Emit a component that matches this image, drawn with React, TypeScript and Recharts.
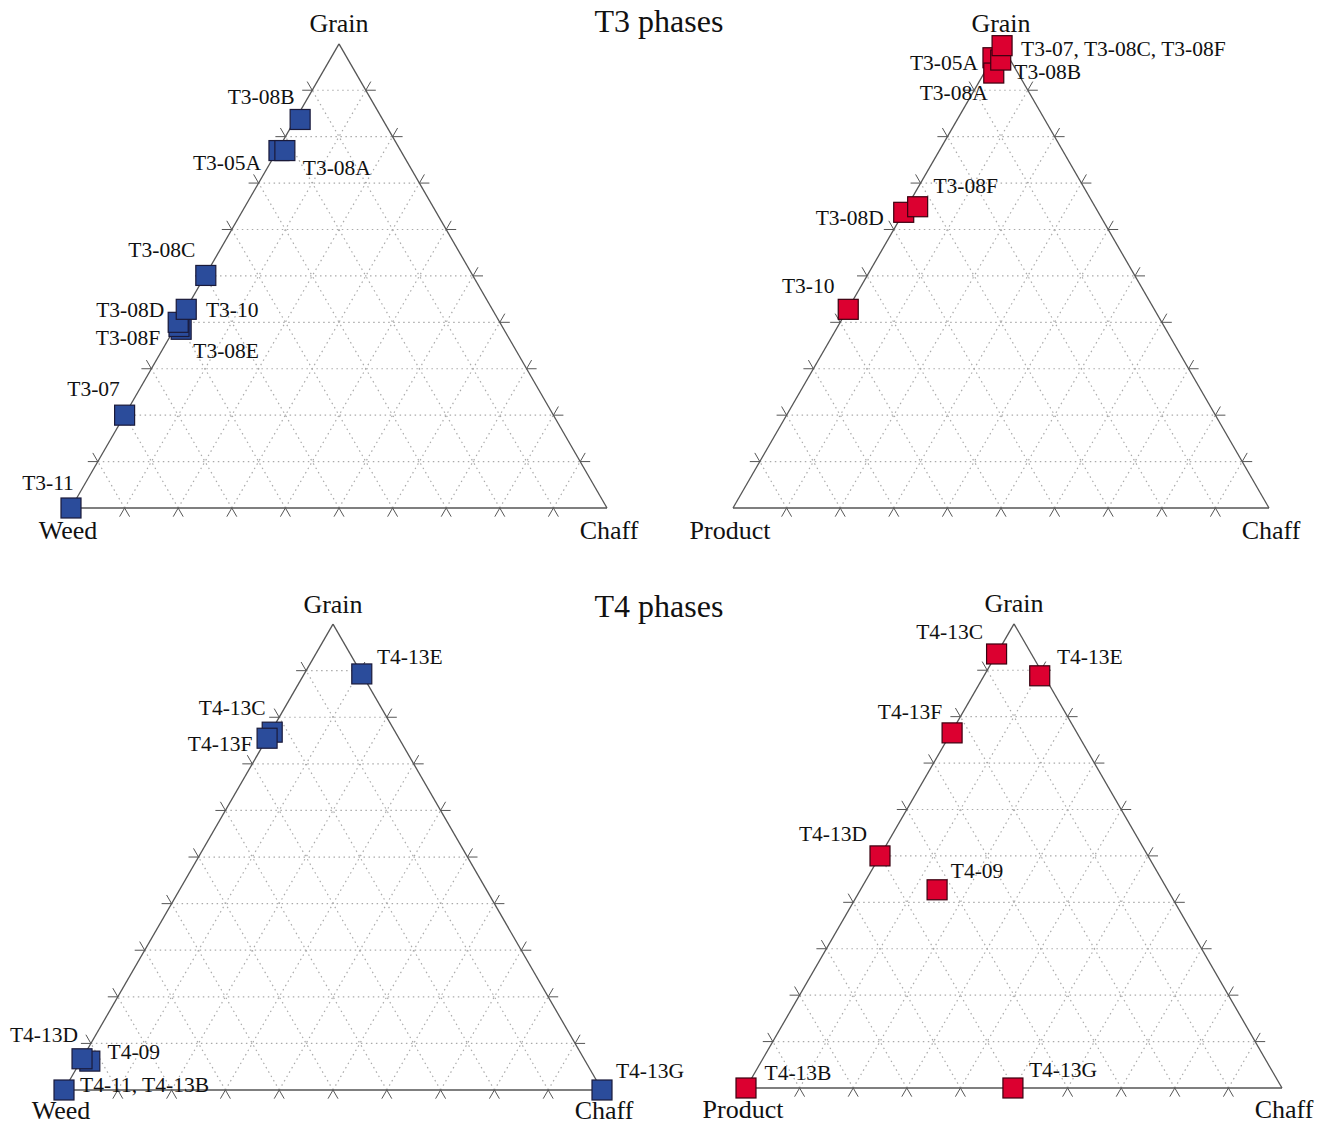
import React from 'react';
import { ScatterChart, Scatter, XAxis, YAxis, ReferenceLine } from 'recharts';

const S3 = Math.sqrt(3) / 2;
const FONT = '"Liberation Serif", "Times New Roman", serif';

// grid / tick levels (%)
const levels = [10, 20, 30, 40, 50, 60, 70, 80, 90];

// T3 phases: Weed - Grain - Chaff (%), back to front
const t3wNames = ['T3-11', 'T3-07', 'T3-08E', 'T3-08F', 'T3-08D', 'T3-10', 'T3-08C', 'T3-05A', 'T3-08A', 'T3-08B'];
const t3wGrain = [0, 20.0, 38.5, 39.1, 40.0, 42.8, 50.1, 77.0, 77.0, 83.7];
const t3wChaff = [0, 0, 1.3, 0.6, 0, 0.1, 0.1, 0.3, 1.4, 0.9];
const t3wWeed = [100, 80.0, 60.2, 60.3, 60.0, 57.1, 49.8, 22.7, 21.6, 15.4];

// T3 phases: Product - Grain - Chaff (%)
const t3pNames = ['T3-10', 'T3-08D', 'T3-08F', 'T3-05A', 'T3-08A', 'T3-08B', 'T3-07, T3-08C, T3-08F'];
const t3pGrain = [42.8, 63.7, 64.9, 97.0, 93.7, 96.5, 99.6];
const t3pChaff = [0.1, 0, 2.0, 0, 1.8, 1.7, 0.4];
const t3pProduct = [57.1, 36.3, 33.1, 3.0, 4.5, 1.8, 0];

// T4 phases: Weed - Grain - Chaff (%)
const t4wNames = ['T4-11, T4-13B', 'T4-13G', 'T4-09', 'T4-13D', 'T4-13C', 'T4-13F', 'T4-13E'];
const t4wGrain = [0, 0, 6.2, 6.7, 76.8, 75.5, 89.3];
const t4wChaff = [0, 100, 1.7, 0, 0.3, 0, 10.7];
const t4wWeed = [100, 0, 92.1, 93.3, 22.9, 24.5, 0];

// T4 phases: Product - Grain - Chaff (%)
const t4pNames = ['T4-13B', 'T4-13G', 'T4-09', 'T4-13D', 'T4-13F', 'T4-13C', 'T4-13E'];
const t4pGrain = [0, 0, 42.7, 50.0, 76.5, 93.5, 88.8];
const t4pChaff = [0, 49.8, 14.3, 0, 0.2, 0, 10.4];
const t4pProduct = [100, 50.2, 43.0, 50.0, 23.3, 6.5, 0.8];

type Anchor = 'start' | 'middle' | 'end';
type LabelPos = Record<string, [number, number, Anchor?]>;

// label offsets from the marker centre (px)
const t3wLabels: LabelPos = {
  'T3-08B': [-39, -22], 'T3-05A': [-52, 12], 'T3-08A': [52, 17], 'T3-08C': [-44, -25],
  'T3-10': [46, 1], 'T3-08D': [-48, -12], 'T3-08F': [-51, 11], 'T3-08E': [45, 22],
  'T3-07': [-31, -26], 'T3-11': [-23, -25],
};
const t3pLabels: LabelPos = {
  'T3-10': [-40, -23], 'T3-08D': [-54, 6], 'T3-08F': [48, -21], 'T3-08A': [-40, 20],
  'T3-05A': [-49, 5], 'T3-08B': [47, 12], 'T3-07, T3-08C, T3-08F': [19, 3, 'start'],
};
const t4wLabels: LabelPos = {
  'T4-11, T4-13B': [16, -5, 'start'], 'T4-13G': [48, -19], 'T4-09': [44, -9],
  'T4-13D': [-38, -24], 'T4-13C': [-40, -24], 'T4-13F': [-47, 6], 'T4-13E': [48, -17],
};
const t4pLabels: LabelPos = {
  'T4-13B': [52, -15], 'T4-13G': [50, -18], 'T4-09': [40, -19], 'T4-13D': [-47, -22],
  'T4-13F': [-42, -21], 'T4-13C': [-47, -22], 'T4-13E': [50, -19],
};

const BLUE = { fill: '#2b4c9b', stroke: '#1a1a3a' };
const RED = { fill: '#dc0030', stroke: '#3a0010' };

// left corner, chaff (right corner), grain (top) in % -> unit triangle coords
const project = (left: number, chaff: number, grain: number) => {
  const t = left + chaff + grain;
  return { x: (chaff + grain / 2) / t, y: (grain * S3) / t };
};

interface PanelProps {
  box: { left: number; top: number; width: number; height: number };
  origin: [number, number];
  side: number;
  leftName: string;
  cornerDy: number;
  names: string[];
  left: number[];
  chaff: number[];
  grain: number[];
  labels: LabelPos;
  color: { fill: string; stroke: string };
}

const TernaryPanel: React.FC<PanelProps> = ({ box, origin, side, leftName, cornerDy, names, left, chaff, grain, labels, color }) => {
  const xDomain = [(box.left - origin[0]) / side, (box.left + box.width - origin[0]) / side];
  const yDomain = [(origin[1] - box.top - box.height) / side, (origin[1] - box.top) / side];
  const t = 10 / side;

  const pts = names.map((name, i) => ({ ...project(left[i], chaff[i], grain[i]), name }));

  const grid: { x: number; y: number }[][] = [];
  const ticks: { x: number; y: number }[][] = [];
  levels.forEach((k) => {
    grid.push([project(100 - k, 0, k), project(0, 100 - k, k)]);
    grid.push([project(100 - k, k, 0), project(0, k, 100 - k)]);
    grid.push([project(k, 100 - k, 0), project(k, 0, 100 - k)]);

    const l = project(100 - k, 0, k);
    ticks.push([l, { x: l.x - t, y: l.y }], [l, { x: l.x - t / 2, y: l.y + t * S3 }]);
    const r = project(0, 100 - k, k);
    ticks.push([r, { x: r.x + t, y: r.y }], [r, { x: r.x + t / 2, y: r.y + t * S3 }]);
    const b = project(100 - k, k, 0);
    ticks.push([b, { x: b.x - t / 2, y: b.y - t * S3 }], [b, { x: b.x + t / 2, y: b.y - t * S3 }]);
  });

  const L = project(100, 0, 0);
  const R = project(0, 100, 0);
  const T = project(0, 0, 100);
  const edges = [[L, R], [R, T], [T, L]];

  const corners = [
    { ...L, text: leftName, dx: -3, dy: cornerDy },
    { ...R, text: 'Chaff', dx: 2, dy: cornerDy },
    { ...T, text: 'Grain', dx: 0, dy: -20 },
  ];

  return (
    <div style={{ position: 'absolute', left: box.left, top: box.top }}>
      <ScatterChart width={box.width} height={box.height} margin={{ top: 0, right: 0, bottom: 0, left: 0 }}>
        <XAxis type="number" dataKey="x" domain={xDomain} hide allowDataOverflow />
        <YAxis type="number" dataKey="y" domain={yDomain} hide allowDataOverflow />
        {grid.map((s, i) => (
          <ReferenceLine key={`g${i}`} segment={s} stroke="#aaaaaa" strokeWidth={1.2} strokeDasharray="1.5 3.5" ifOverflow="visible" />
        ))}
        {ticks.map((s, i) => (
          <ReferenceLine key={`t${i}`} segment={s} stroke="#555" strokeWidth={1} ifOverflow="visible" />
        ))}
        {edges.map((s, i) => (
          <ReferenceLine key={`e${i}`} segment={s} stroke="#555" strokeWidth={1.3} ifOverflow="visible" />
        ))}
        <Scatter
          data={pts}
          isAnimationActive={false}
          shape={(p: any) => (
            <rect x={p.cx - 10} y={p.cy - 10} width={20} height={20} fill={color.fill} stroke={color.stroke} strokeWidth={1.2} />
          )}
        />
        <Scatter
          data={pts}
          isAnimationActive={false}
          shape={(p: any) => {
            const pos = labels[p.payload.name] || [0, -20];
            return (
              <text
                x={p.cx + pos[0]}
                y={p.cy + pos[1]}
                textAnchor={pos[2] || 'middle'}
                dominantBaseline="central"
                fontFamily={FONT}
                fontSize={21.5}
                fill="#111"
              >
                {p.payload.name}
              </text>
            );
          }}
        />
        <Scatter
          data={corners}
          isAnimationActive={false}
          shape={(p: any) => (
            <text
              x={p.cx + p.payload.dx}
              y={p.cy + p.payload.dy}
              textAnchor="middle"
              dominantBaseline="central"
              fontFamily={FONT}
              fontSize={26}
              fill="#111"
            >
              {p.payload.text}
            </text>
          )}
        />
      </ScatterChart>
    </div>
  );
};

const titleStyle: React.CSSProperties = {
  position: 'absolute',
  width: 240,
  left: 539,
  textAlign: 'center',
  fontFamily: FONT,
  fontSize: 32,
  lineHeight: '32px',
  color: '#111',
};

export default function App() {
  return (
    <div style={{ position: 'absolute', left: 0, top: 0, width: 1331, height: 1124, background: '#fff', overflow: 'hidden' }}>
      <TernaryPanel
        box={{ left: 0, top: 0, width: 700, height: 560 }}
        origin={[71, 508]}
        side={536}
        leftName="Weed"
        cornerDy={22}
        names={t3wNames}
        left={t3wWeed}
        chaff={t3wChaff}
        grain={t3wGrain}
        labels={t3wLabels}
        color={BLUE}
      />
      <TernaryPanel
        box={{ left: 660, top: 0, width: 671, height: 560 }}
        origin={[733, 508]}
        side={536}
        leftName="Product"
        cornerDy={22}
        names={t3pNames}
        left={t3pProduct}
        chaff={t3pChaff}
        grain={t3pGrain}
        labels={t3pLabels}
        color={RED}
      />
      <TernaryPanel
        box={{ left: 0, top: 560, width: 700, height: 564 }}
        origin={[64, 1090]}
        side={538}
        leftName="Weed"
        cornerDy={20}
        names={t4wNames}
        left={t4wWeed}
        chaff={t4wChaff}
        grain={t4wGrain}
        labels={t4wLabels}
        color={BLUE}
      />
      <TernaryPanel
        box={{ left: 660, top: 560, width: 671, height: 564 }}
        origin={[746, 1088]}
        side={536}
        leftName="Product"
        cornerDy={21}
        names={t4pNames}
        left={t4pProduct}
        chaff={t4pChaff}
        grain={t4pGrain}
        labels={t4pLabels}
        color={RED}
      />
      <div style={{ ...titleStyle, top: 5 }}>T3 phases</div>
      <div style={{ ...titleStyle, top: 590 }}>T4 phases</div>
    </div>
  );
}
